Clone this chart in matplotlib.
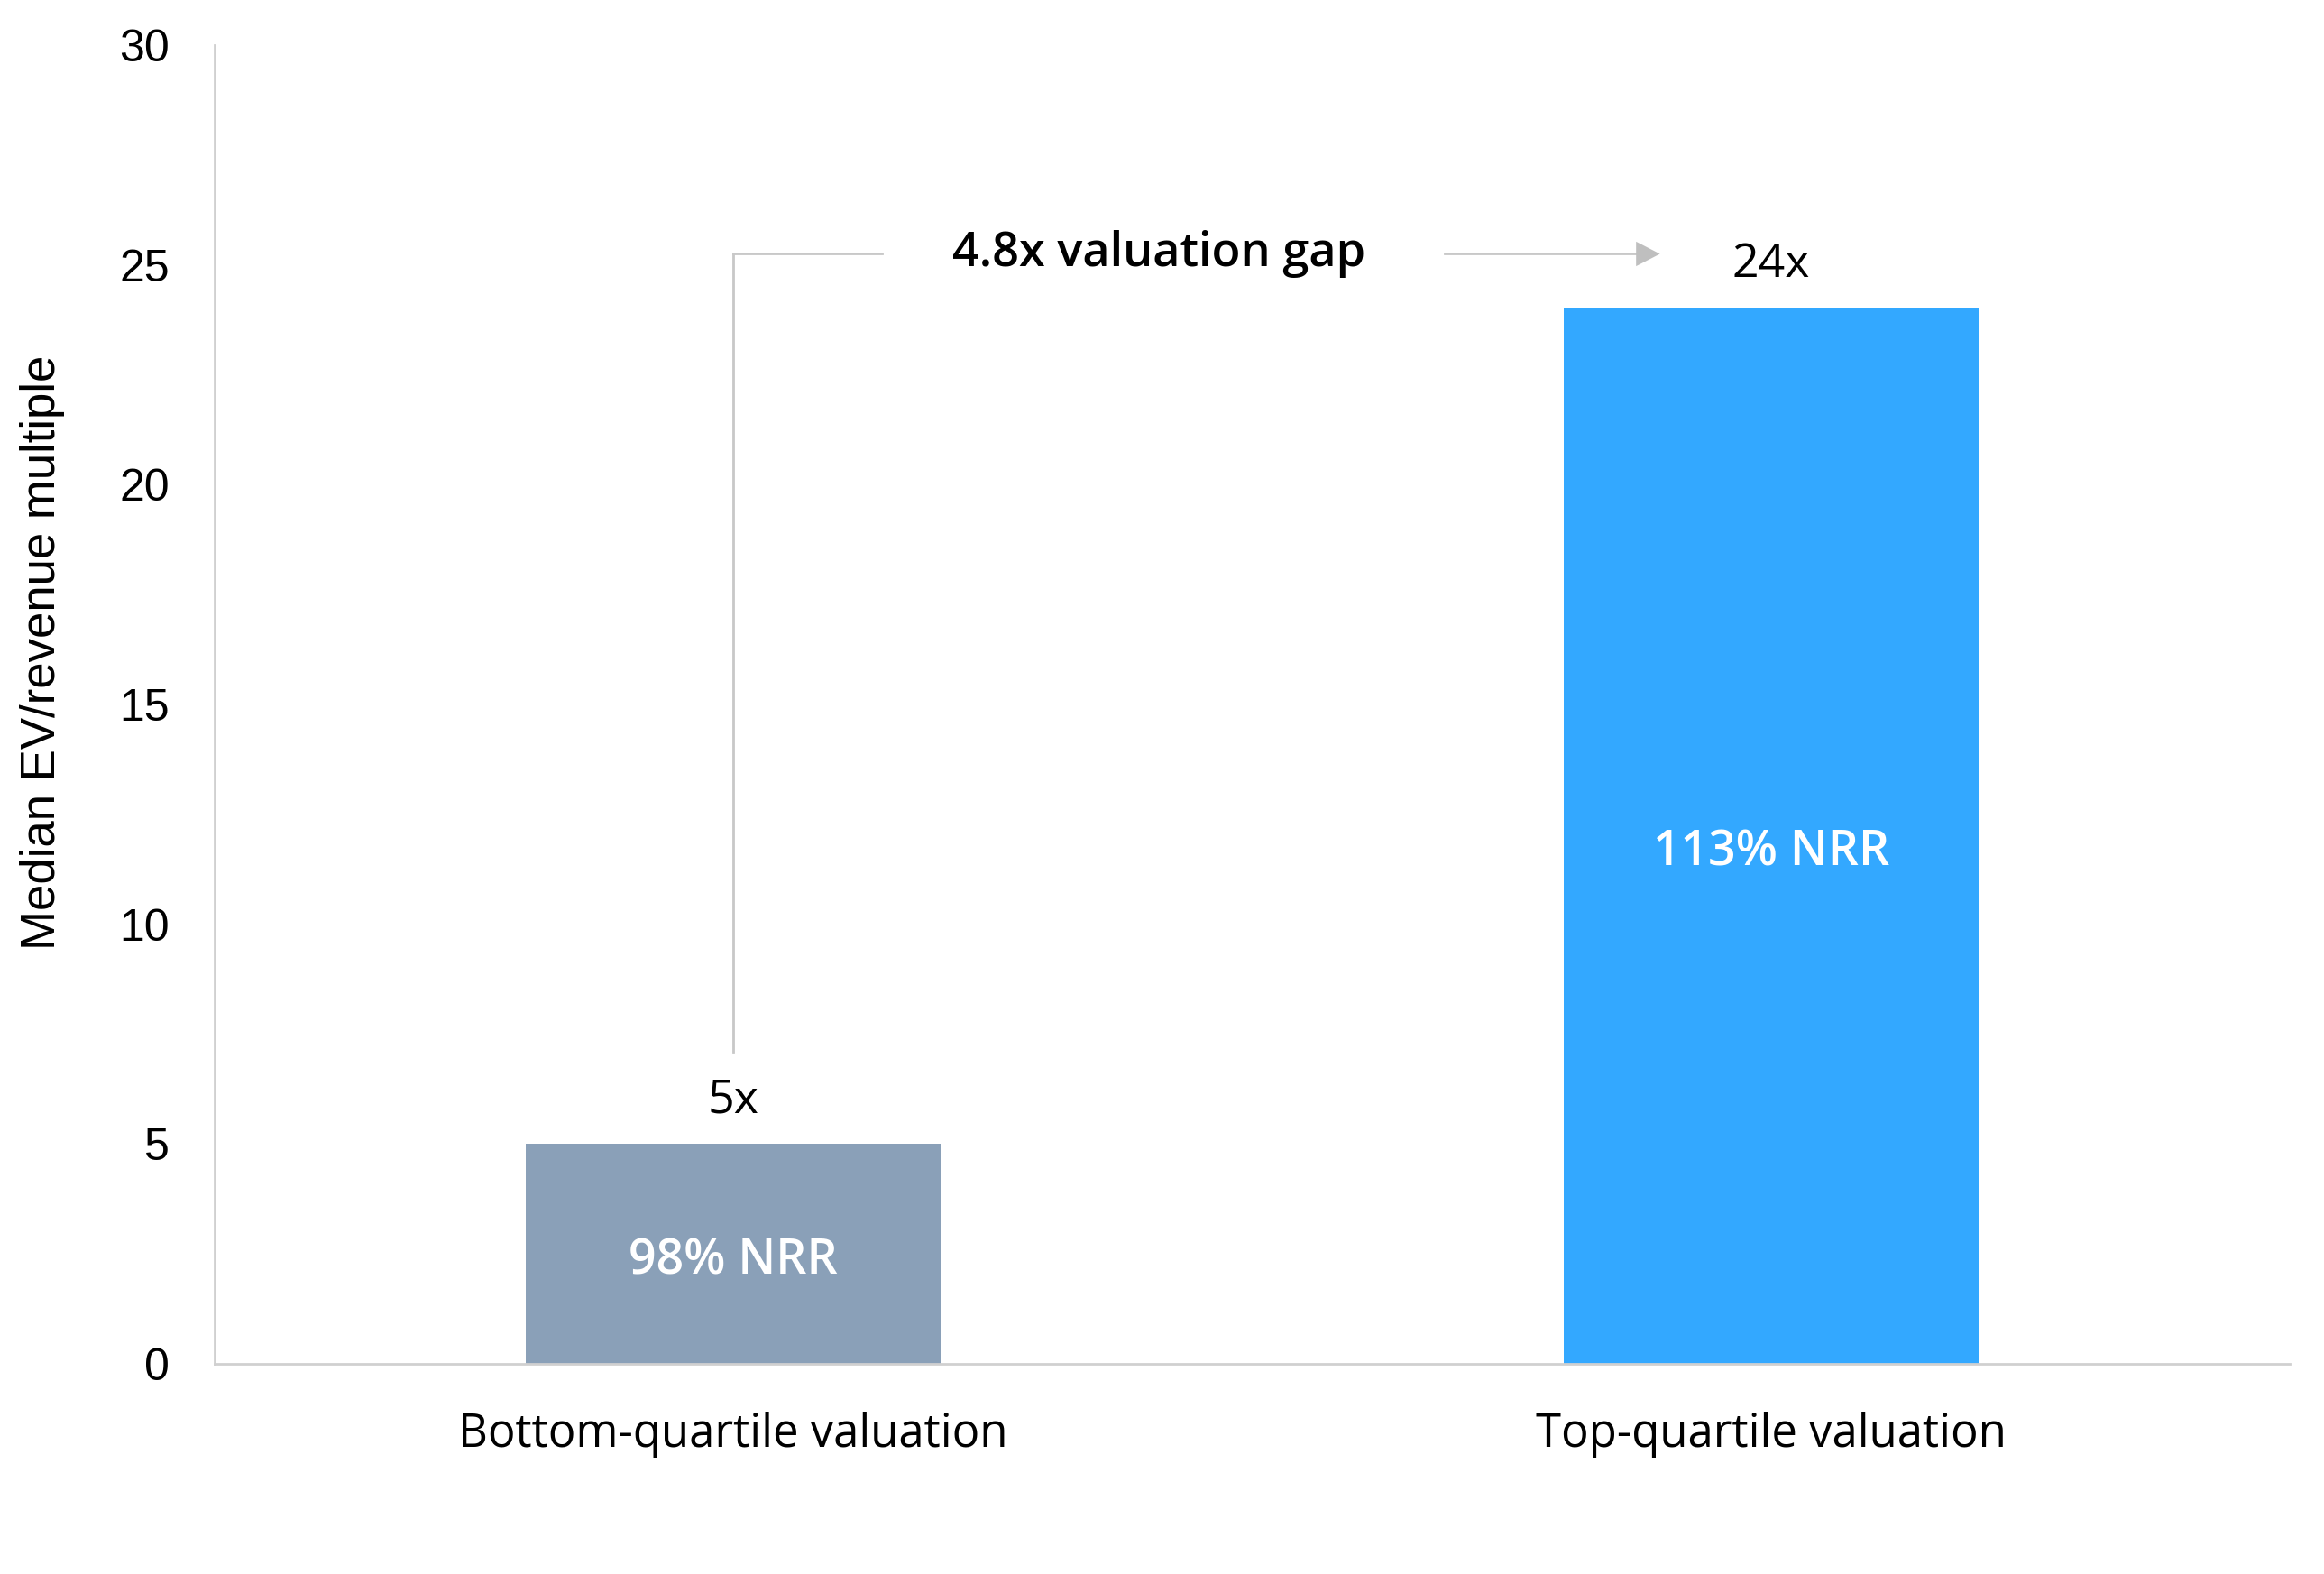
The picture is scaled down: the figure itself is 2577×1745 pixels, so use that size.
import matplotlib
matplotlib.use("Agg")
import matplotlib.pyplot as plt
from matplotlib.patches import Polygon

categories = ["Bottom-quartile valuation", "Top-quartile valuation"]
values = [5, 24]
value_labels = ["5x", "24x"]
inner_labels = ["98% NRR", "113% NRR"]
bar_colors = ["#8AA0B8", "#33A8FF"]
gap_label = "4.8x valuation gap"
y_ticks = [0, 5, 10, 15, 20, 25, 30]

SEG = "Open Sans"
ARI = "Liberation Sans"

fig = plt.figure(figsize=(25.77 / 2, 17.45 / 2), dpi=200)
ax = fig.add_axes([238 / 2577, 1 - 1512 / 1745, (2539 - 238) / 2577, (1512 - 50) / 1745])

x = list(range(len(categories)))
ax.bar(x, values, width=0.4, color=bar_colors, zorder=2)
ax.set_xlim(-0.5, 1.5)
ax.set_ylim(0, 30)
ax.set_yticks(y_ticks)
ax.set_yticklabels([str(t) for t in y_ticks], fontfamily=ARI, fontsize=18)
ax.set_xticks(x)
ax.set_xticklabels(categories, fontfamily=SEG, fontsize=18.3)
ax.tick_params(axis="y", length=0, pad=18)
ax.tick_params(axis="x", length=0, pad=19)
for s in ["top", "right"]:
    ax.spines[s].set_visible(False)
for s in ["left", "bottom"]:
    ax.spines[s].set_color("#D0D0D0")
    ax.spines[s].set_linewidth(1.0)

fig.text(47 / 2577, 1 - 723 / 1745, "Median EV/revenue multiple", rotation=90,
         ha="center", va="center", fontfamily=ARI, fontsize=19)

for xi, v, vl, il in zip(x, values, value_labels, inner_labels):
    ax.text(xi, v + 1.0, vl, ha="center", va="center", fontfamily=SEG, fontsize=18.7)
    ax.text(xi, v * 0.49 - 0.13, il, ha="center", va="center", fontfamily=SEG, fontsize=19.3,
            fontweight="semibold", color="white")

# bracket annotation
lc = "#C8C8C8"
y_br = 25.25
ax.plot([x[0], x[0]], [7.1, y_br], color=lc, lw=1.0, zorder=1)
ax.plot([x[0], 0.143], [y_br, y_br], color=lc, lw=1.0, zorder=1)
ax.plot([0.686, 0.87], [y_br, y_br], color=lc, lw=1.0, zorder=1)
ax.add_patch(Polygon([[0.87, y_br + 0.28], [0.87, y_br - 0.28], [0.893, y_br]],
                     closed=True, color="#BFBFBF", lw=0, zorder=1))
ax.text(0.41, y_br, gap_label, ha="center", va="center", fontfamily=SEG,
        fontsize=18.8, fontweight="semibold")

fig.savefig("out.png", dpi=200, facecolor="white")
